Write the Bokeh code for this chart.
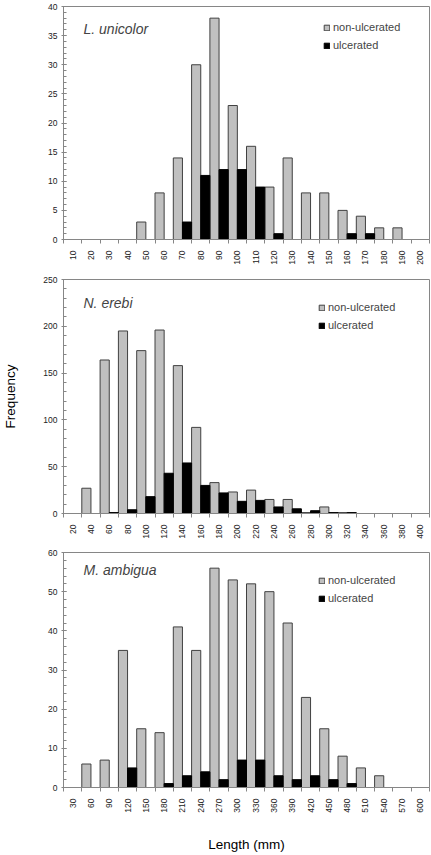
import numpy as np
from bokeh.plotting import figure
from bokeh.models import (ColumnDataSource, Range1d, FixedTicker, SingleIntervalTicker,
                          Legend, LegendItem, Label)
from bokeh.transform import dodge
from bokeh.layouts import column
from bokeh.embed import file_html
from bokeh.resources import INLINE

# ---- data ----
lu_length = [10, 20, 30, 40, 50, 60, 70, 80, 90, 100, 110, 120, 130, 140, 150, 160, 170, 180, 190, 200]
lu_non = [0, 0, 0, 0, 3, 8, 14, 30, 38, 23, 16, 9, 14, 8, 8, 5, 4, 2, 2, 0]
lu_ulc = [0, 0, 0, 0, 0, 0, 3, 11, 12, 12, 9, 1, 0, 0, 0, 1, 1, 0, 0, 0]

ne_length = [20, 40, 60, 80, 100, 120, 140, 160, 180, 200, 220, 240, 260, 280, 300, 320, 340, 360, 380, 400]
ne_non = [0, 27, 164, 195, 174, 196, 158, 92, 33, 23, 25, 15, 15, 1, 7, 1, 0, 0, 0, 0]
ne_ulc = [0, 0, 1, 4, 18, 43, 54, 30, 22, 13, 14, 7, 5, 3, 1, 1, 0, 0, 0, 0]

ma_length = [30, 60, 90, 120, 150, 180, 210, 240, 270, 300, 330, 360, 390, 420, 450, 480, 510, 540, 570, 600]
ma_non = [0, 6, 7, 35, 15, 14, 41, 35, 56, 53, 52, 50, 42, 23, 15, 8, 5, 3, 0, 0]
ma_ulc = [0, 0, 0, 5, 0, 1, 3, 4, 2, 7, 7, 3, 2, 3, 2, 1, 0, 0, 0, 0]

species = ["L. unicolor", "N. erebi", "M. ambigua"]
series_names = ["non-ulcerated", "ulcerated"]
y_max = [40, 250, 60]
y_step = [5, 50, 10]

FONT = "Liberation Sans"
AXIS_GREY = "#868686"


def panel(name, lengths, non, ulc, ymax, ystep, frame_h, top_b, bottom_b,
          leg_x, leg_top, name_top, ylabel=None, xlabel=None):
    step = lengths[1] - lengths[0]
    p = figure(frame_width=366, frame_height=frame_h,
               x_range=Range1d(lengths[0] - step / 2, lengths[-1] + step / 2),
               y_range=Range1d(0, ymax),
               output_backend="svg", toolbar_location=None,
               min_border_left=62, min_border_right=3,
               min_border_top=top_b, min_border_bottom=bottom_b,
               background_fill_color="white", border_fill_color="white")
    p.grid.visible = False
    p.outline_line_color = AXIS_GREY

    src_non = ColumnDataSource(dict(x=[l for l, v in zip(lengths, non) if v > 0],
                                    top=[v for v in non if v > 0]))
    src_ulc = ColumnDataSource(dict(x=[l for l, v in zip(lengths, ulc) if v > 0],
                                    top=[v for v in ulc if v > 0]))
    r1 = p.vbar(x=dodge('x', -step / 4), top='top', width=step / 2, source=src_non,
                fill_color="#C0C0C0", line_color="#404040", line_width=1)
    r2 = p.vbar(x=dodge('x', step / 4), top='top', width=step / 2, source=src_ulc,
                fill_color="black", line_color="black", line_width=1)

    xa = p.xaxis[0]
    xa.ticker = FixedTicker(ticks=lengths,
                            minor_ticks=[l - step / 2 for l in lengths] + [lengths[-1] + step / 2])
    xa.major_tick_out = 0
    xa.major_tick_in = 0
    xa.minor_tick_out = 4
    xa.minor_tick_in = 0
    xa.minor_tick_line_color = AXIS_GREY
    xa.axis_line_color = AXIS_GREY
    xa.major_label_orientation = np.pi / 2
    xa.major_label_standoff = 7
    xa.major_label_text_font = FONT
    xa.major_label_text_font_size = "8.5px"
    xa.major_label_text_color = "#222222"

    ya = p.yaxis[0]
    ya.ticker = SingleIntervalTicker(interval=ystep, num_minor_ticks=5)
    ya.major_tick_out = 2
    ya.major_tick_in = 3
    ya.minor_tick_in = 3
    ya.minor_tick_out = 0
    ya.major_tick_line_color = AXIS_GREY
    ya.minor_tick_line_color = AXIS_GREY
    ya.axis_line_color = AXIS_GREY
    ya.major_label_standoff = 4
    ya.major_label_text_font = FONT
    ya.major_label_text_font_size = "8.5px"
    ya.major_label_text_color = "#222222"

    if ylabel:
        ya.axis_label = ylabel
        ya.axis_label_standoff = 22
        ya.axis_label_text_font = FONT
        ya.axis_label_text_font_style = "normal"
        ya.axis_label_text_font_size = "13.5px"
        ya.axis_label_text_color = "black"
    if xlabel:
        xa.axis_label = xlabel
        xa.axis_label_standoff = 21
        xa.axis_label_text_font = FONT
        xa.axis_label_text_font_style = "normal"
        xa.axis_label_text_font_size = "13.5px"
        xa.axis_label_text_color = "black"

    leg = Legend(items=[LegendItem(label=series_names[0], renderers=[r1]),
                        LegendItem(label=series_names[1], renderers=[r2])],
                 location=(leg_x, frame_h - leg_top - 32), orientation="vertical",
                 background_fill_alpha=0, border_line_alpha=0, padding=0, margin=0,
                 spacing=4, label_height=14, glyph_width=7, glyph_height=7,
                 label_standoff=3, label_text_font=FONT, label_text_font_size="11px")
    p.add_layout(leg)

    p.add_layout(Label(x=20, y=frame_h - name_top, x_units="screen", y_units="screen",
                       text=name, text_font=FONT, text_font_style="italic",
                       text_font_size="14px", text_baseline="middle"))
    return p


p1 = panel(species[0], lu_length, lu_non, lu_ulc, y_max[0], y_step[0],
           frame_h=233, top_b=6, bottom_b=32, leg_x=260, leg_top=14, name_top=22)
p2 = panel(species[1], ne_length, ne_non, ne_ulc, y_max[1], y_step[1],
           frame_h=234, top_b=8, bottom_b=31, leg_x=255, leg_top=21, name_top=23,
           ylabel="Frequency")
p3 = panel(species[2], ma_length, ma_non, ma_ulc, y_max[2], y_step[2],
           frame_h=235, top_b=8, bottom_b=66, leg_x=255, leg_top=21, name_top=17,
           xlabel="Length (mm)")

layout = column(p1, p2, p3, spacing=0)
open("out.html", "w").write(file_html(layout, INLINE))
